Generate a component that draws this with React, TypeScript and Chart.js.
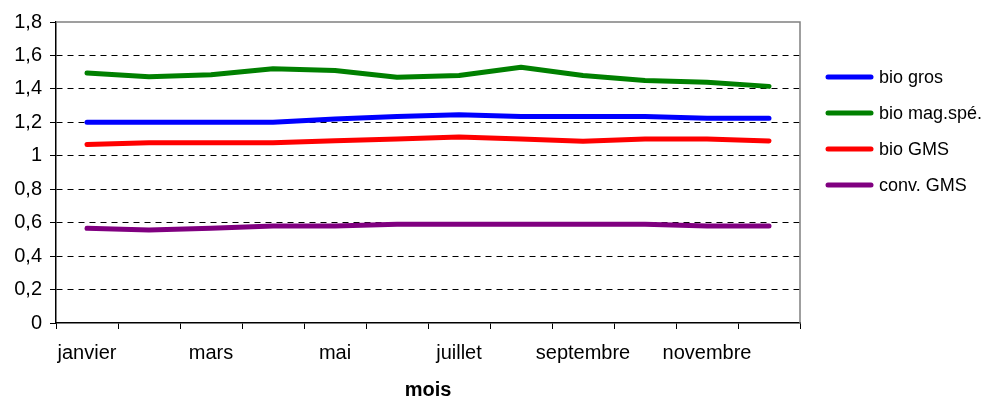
import React, { useEffect, useRef } from "react";
import { Chart, registerables } from "chart.js";

Chart.register(...registerables);

const months = ["janvier", "février", "mars", "avril", "mai", "juin", "juillet", "août", "septembre", "octobre", "novembre", "décembre"];
const bioGros = [1.2, 1.2, 1.2, 1.2, 1.22, 1.235, 1.245, 1.235, 1.235, 1.235, 1.225, 1.225];
const bioMagSpe = [1.495, 1.473, 1.485, 1.52, 1.51, 1.47, 1.48, 1.53, 1.48, 1.45, 1.44, 1.415];
const bioGMS = [1.067, 1.078, 1.078, 1.078, 1.09, 1.1, 1.112, 1.1, 1.087, 1.1, 1.1, 1.089];
const convGMS = [0.566, 0.556, 0.567, 0.58, 0.58, 0.59, 0.59, 0.59, 0.59, 0.59, 0.58, 0.58];
const seriesNames = ["bio gros", "bio mag.spé.", "bio GMS", "conv. GMS"];
const seriesColors = ["#0000FF", "#008000", "#FF0000", "#800080"];
const yMin = 0;
const yMax = 1.8;
const yStep = 0.2;
const xTitle = "mois";

const FONT = "'Liberation Sans', Arial, sans-serif";

export default function App() {
  const ref = useRef<HTMLCanvasElement | null>(null);
  useEffect(() => {
    if (!ref.current) return;
    const frame = {
      id: "frame",
      beforeDatasetsDraw(chart: any) {
        const { ctx, chartArea: a } = chart;
        ctx.save();
        ctx.strokeStyle = "#808080";
        ctx.lineWidth = 1.5;
        ctx.beginPath();
        ctx.moveTo(a.left, a.top);
        ctx.lineTo(a.right, a.top);
        ctx.lineTo(a.right, a.bottom);
        ctx.stroke();
        ctx.restore();
      },
    };
    const legend = {
      id: "customLegend",
      afterDraw(chart: any) {
        const { ctx } = chart;
        ctx.save();
        chart.data.datasets.forEach((ds: any, i: number) => {
          const y = 77 + i * 36;
          ctx.strokeStyle = ds.borderColor;
          ctx.lineWidth = 5;
          ctx.lineCap = "round";
          ctx.beginPath();
          ctx.moveTo(828, y);
          ctx.lineTo(871, y);
          ctx.stroke();
          ctx.fillStyle = "#000";
          ctx.font = `18px ${FONT}`;
          ctx.textBaseline = "middle";
          ctx.textAlign = "left";
          ctx.fillText(ds.label, 879, y + 1);
        });
        ctx.restore();
      },
    };
    const data = [bioGros, bioMagSpe, bioGMS, convGMS];
    const chart = new Chart(ref.current, {
      type: "line",
      data: {
        labels: months,
        datasets: data.map((d, i) => ({
          label: seriesNames[i],
          data: d,
          borderColor: seriesColors[i],
          backgroundColor: seriesColors[i],
          borderWidth: 5,
          pointRadius: 0,
          tension: 0,
          borderCapStyle: "round" as const,
          borderJoinStyle: "round" as const,
        })),
      },
      options: {
        animation: false,
        responsive: false,
        layout: { padding: { top: 22, right: 196, left: 0, bottom: 0 } },
        plugins: { legend: { display: false }, tooltip: { enabled: false } },
        scales: {
          x: {
            offset: true,
            afterFit(scale: any) {
              scale.height = 77;
            },
            grid: {
              offset: true,
              drawOnChartArea: false,
              drawTicks: true,
              tickLength: 6,
              color: "#000",
              tickColor: "#000",
            },
            border: { color: "#000", width: 1.5 },
            ticks: {
              autoSkip: false,
              maxRotation: 0,
              color: "#000",
              padding: 12,
              font: { family: FONT, size: 20 },
              callback: (_v: any, i: number) => (i % 2 === 0 ? months[i] : ""),
            },
            title: {
              display: true,
              text: xTitle,
              color: "#000",
              padding: { top: 0, bottom: 0 },
              font: { family: FONT, size: 20, weight: "bold", lineHeight: 1 },
            },
          },
          y: {
            min: yMin,
            max: yMax,
            afterFit(scale: any) {
              scale.width = 56;
            },
            grid: {
              drawTicks: true,
              tickLength: 6,
              color: (c: any) => {
                const v = c.tick ? c.tick.value : 0;
                return v <= yMin + 1e-9 || v >= yMax - 1e-9 ? "rgba(0,0,0,0)" : "#000";
              },
              tickColor: "#000",
              tickBorderDash: [],
            },
            border: { color: "#000", width: 1.5, dash: [6, 5] },
            ticks: {
              stepSize: yStep,
              color: "#000",
              padding: 8,
              font: { family: FONT, size: 20 },
              callback: (v: any) => String(Number(Number(v).toFixed(1))).replace(".", ","),
            },
          },
        },
      },
      plugins: [frame, legend],
    });
    return () => chart.destroy();
  }, []);
  return (
    <div style={{ position: "absolute", left: 0, top: 0, width: 996, height: 400, background: "#fff" }}>
      <canvas ref={ref} width={996} height={400} style={{ width: 996, height: 400 }} />
    </div>
  );
}
